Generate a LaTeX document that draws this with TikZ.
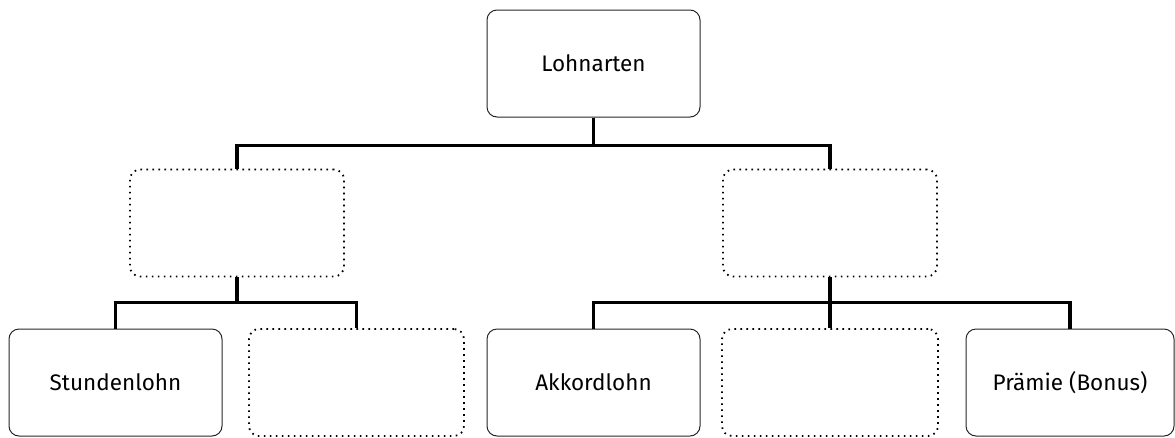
\documentclass[tikz,border=0pt]{standalone}
\usepackage{fontspec}
\setmainfont{Fira Sans}
\usetikzlibrary{calc}
\begin{document}
\begin{tikzpicture}[x=1pt,y=-1pt,
  box/.style={draw=black!85, line width=1pt, rounded corners=10pt, minimum width=213pt, minimum height=107pt, inner sep=0pt, font=\fontsize{22.5}{27}\selectfont},
  ghost/.style={box, draw=black, line width=1.8pt, dash pattern=on 1.6pt off 4.4pt},
  conn/.style={line width=3.5pt, line cap=butt}]
\useasboundingbox (0,0) rectangle (1175,437);
\node[box] (top) at (593.5,63.5) {Lohnarten};
\node[ghost, minimum width=214pt] (ml) at (237,223) {};
\node[ghost, minimum width=214pt] (mr) at (830,223) {};
\node[box] (b1) at (115.5,382.5) {Stundenlohn};
\node[ghost, minimum width=215pt] (b2) at (356.5,382.5) {};
\node[box] (b3) at (593.5,382.5) {Akkordlohn};
\node[ghost, minimum width=216pt] (b4) at (830,382.5) {};
\node[box, minimum width=208pt] (b5) at (1070,382.5) {Prämie (Bonus)};
\coordinate (j1) at ($(top.south)+(0,28)$);
\draw[conn] (top.south) -- (j1);
\draw[conn] (ml.north) |- (j1) -| (mr.north);
\coordinate (j2) at ($(ml.south)+(0,25)$);
\draw[conn] (ml.south) -- (j2);
\draw[conn] (b1.north) |- (j2) -| (b2.north);
\coordinate (j3) at ($(mr.south)+(0,25)$);
\draw[conn] (mr.south) -- (b4.north);
\draw[conn] (b3.north) |- (j3) -| (b5.north);
\end{tikzpicture}
\end{document}
